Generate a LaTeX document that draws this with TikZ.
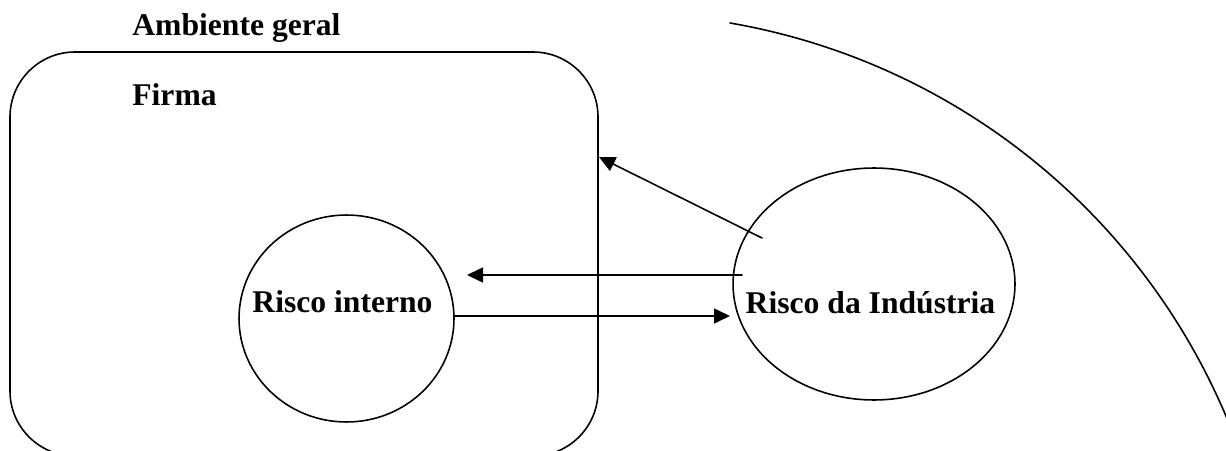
\documentclass[tikz,border=0pt]{standalone}
\usepackage{fontspec}
\setmainfont{Liberation Serif}
\usetikzlibrary{arrows.meta,shapes.geometric}

\begin{document}
\begin{tikzpicture}[x=0.02cm,y=0.02cm,line cap=round,line join=round,
		rotulo/.style={font=\fontsize{18pt}{20pt}\selectfont\bfseries,inner sep=0pt},
		risco/.style={draw=black,ellipse,line width=0.9pt,inner sep=0pt},
		seta/.style={line width=0.9pt,-{Triangle[length=0.32cm,width=0.3cm]}}]
	\useasboundingbox (0,0) rectangle (1226,450);
	\clip (0,0) rectangle (1226,450);
	
	%ambiente geral
	\draw[line width=0.9pt] (730,427) arc[start angle=80.2,end angle=20,radius=661];
	\node[rotulo,anchor=base west] (ambiente) at (132,414) {Ambiente geral};
	
	%firma
	\draw[line width=0.9pt,rounded corners=1.3cm] (10,-6) rectangle (598,398);
	\node[rotulo,anchor=base west] (firma) at (132,344) {Firma};
	
	%riscos
	\node[risco,minimum width=4.3cm,minimum height=4.14cm] (interno) at (346.5,131.5) {};
	\node[rotulo,anchor=base] (tinterno) at (342.5,138) {Risco interno};
	\node[risco,minimum width=5.64cm,minimum height=4.64cm] (industria) at (874,166) {};
	\node[rotulo,anchor=base] (tindustria) at (870.5,137) {Risco da Indústria};
	
	%setas
	\coordinate (s1) at (762,212);
	\coordinate (borda) at (599,293);
	\coordinate (s2) at (742,175);
	\coordinate (e2) at (467,175);
	\coordinate (s3) at (454,134);
	\coordinate (e3) at (730,134);
	\draw[seta] (s1) -- (borda);
	\draw[seta] (s2) -- (e2);
	\draw[seta] (s3) -- (e3);
\end{tikzpicture}
\end{document}
